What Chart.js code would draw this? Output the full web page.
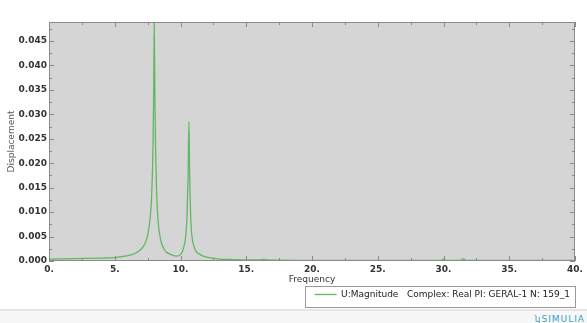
<!DOCTYPE html>
<html><head><meta charset="utf-8">
<script src="https://cdn.jsdelivr.net/npm/chart.js@4/dist/chart.umd.min.js"></script>
<style>
html,body{margin:0;padding:0;background:#fff;overflow:hidden;}
#wrap{position:relative;width:587px;height:309px;}
#foot{width:587px;height:14px;border-top:2px solid #e6e6e6;background:#f7f7f7;position:relative;}
#logo{position:absolute;right:2px;top:3px;font:9px "DejaVu Sans",sans-serif;color:#3aa0c8;letter-spacing:1px;}
</style></head>
<body>
<div id="wrap"><canvas id="c" width="587" height="309"></canvas></div>
<div id="foot"><span id="logo">&#x2AE;SIMULIA</span></div>
<script>
const frequency = [0, 2, 4, 5, 6, 6.5, 7, 7.3, 7.5, 7.7, 7.8, 7.9, 7.95, 8.0, 8.05, 8.1, 8.2, 8.3, 8.5, 8.8, 9.2, 9.7, 10.0, 10.2, 10.4, 10.5, 10.58, 10.64, 10.7, 10.8, 10.9, 11.1, 11.5, 12, 13, 14, 15, 16, 16.3, 16.6, 20, 25, 29.8, 30, 30.2, 31.3, 31.5, 31.7, 35, 40];
const displacement = [0.0004, 0.0005, 0.0006, 0.0007, 0.0011, 0.0015, 0.0024, 0.0036, 0.0052, 0.009, 0.013, 0.022, 0.032, 0.0488, 0.034, 0.024, 0.013, 0.008, 0.0042, 0.0022, 0.0014, 0.001, 0.0013, 0.0024, 0.0052, 0.0095, 0.018, 0.0285, 0.017, 0.0075, 0.0045, 0.0024, 0.0013, 0.0008, 0.0004, 0.0003, 0.0002, 0.0002, 0.0004, 0.0002, 0.0001, 0.0001, 0.0001, 0.0004, 0.0001, 0.0001, 0.0005, 0.0001, 0.0001, 0.0001];
const xTicks = [0, 5, 10, 15, 20, 25, 30, 35, 40];
const yTicks = [0, 0.005, 0.010, 0.015, 0.020, 0.025, 0.030, 0.035, 0.040, 0.045];
const seriesLabel = 'U:Magnitude   Complex: Real PI: GERAL-1 N: 159_1';

const points = frequency.map((f, i) => ({x: f, y: displacement[i]}));

const frame = {
  id: 'frame',
  beforeDatasetsDraw(chart) {
    const {ctx, chartArea: a} = chart;
    ctx.save();
    ctx.fillStyle = '#d5d5d5';
    ctx.fillRect(a.left, a.top, a.right - a.left, a.bottom - a.top);
    ctx.restore();
  },
  afterDraw(chart) {
    const {ctx, chartArea: a, scales: {x, y}} = chart;
    ctx.save();
    ctx.strokeStyle = '#8a8a8a';
    ctx.lineWidth = 1;
    ctx.strokeRect(a.left + 0.5, a.top + 0.5, a.right - a.left - 1, a.bottom - a.top - 1);
    ctx.beginPath();
    for (let v = 0; v <= 40.001; v += 2.5) {
      const px = Math.round(x.getPixelForValue(v)) + 0.5;
      const len = (Math.abs(v % 5) < 1e-6) ? 5 : 3;
      ctx.moveTo(px, a.bottom); ctx.lineTo(px, a.bottom - len);
      ctx.moveTo(px, a.top); ctx.lineTo(px, a.top + len);
    }
    for (let k = 0; k <= 19; k++) {
      const v = k * 0.0025;
      if (v > y.max) break;
      const py = Math.round(y.getPixelForValue(v)) + 0.5;
      const len = (k % 2 === 0) ? 5 : 3;
      ctx.moveTo(a.left, py); ctx.lineTo(a.left + len, py);
      ctx.moveTo(a.right, py); ctx.lineTo(a.right - len, py);
    }
    ctx.stroke();
    const L = chart.legend;
    if (L && L.legendHitBoxes && L.legendHitBoxes.length) {
      const hb = L.legendHitBoxes[0];
      ctx.strokeStyle = '#9a9a9a';
      const l = Math.round(hb.left - 10) + 0.5;
      const r = Math.round(hb.left + hb.width + 5) + 0.5;
      const t = Math.round(hb.top - 4) + 0.5;
      const b = Math.round(hb.top + hb.height + 8) + 0.5;
      ctx.strokeRect(l, t, r - l, b - t);
    }
    ctx.restore();
  }
};

new Chart(document.getElementById('c'), {
  type: 'scatter',
  data: {
    datasets: [{
      label: seriesLabel,
      data: points,
      showLine: true,
      borderColor: '#62b862',
      backgroundColor: '#62b862',
      borderWidth: 1.3,
      pointRadius: 0,
      tension: 0.35,
      cubicInterpolationMode: 'monotone'
    }]
  },
  options: {
    responsive: false,
    animation: false,
    layout: {padding: {top: 22, right: 12, left: 0, bottom: 0}},
    plugins: {
      tooltip: {enabled: false},
      legend: {
        position: 'bottom',
        align: 'end',
        labels: {
          usePointStyle: true,
          pointStyle: 'line',
          pointStyleWidth: 22,
          boxWidth: 22,
          padding: 5,
          color: '#222',
          font: {family: 'DejaVu Sans', size: 9}
        }
      }
    },
    scales: {
      x: {
        type: 'linear',
        min: 0, max: 40,
        afterBuildTicks(s) { s.ticks = xTicks.map(v => ({value: v})); },
        afterFit(s) { s.height = 24; },
        ticks: {
          color: '#333', font: {family: 'DejaVu Sans', size: 9, weight: 'bold'},
          padding: 3, maxRotation: 0,
          callback: v => v + '.'
        },
        grid: {display: false, drawTicks: false, tickLength: 0},
        border: {display: false},
        title: {display: true, text: 'Frequency', color: '#333', font: {family: 'DejaVu Sans', size: 9}, padding: {top: 0, bottom: 0}}
      },
      y: {
        type: 'linear',
        min: 0, max: 0.0489,
        afterBuildTicks(s) { s.ticks = yTicks.map(v => ({value: v})); },
        afterFit(s) { s.width = 49; },
        ticks: {
          color: '#333', font: {family: 'DejaVu Sans', size: 9, weight: 'bold'},
          padding: 2,
          callback: v => Number(v).toFixed(3)
        },
        grid: {display: false, drawTicks: false, tickLength: 0},
        border: {display: false},
        title: {display: true, text: 'Displacement', color: '#555', font: {family: 'DejaVu Sans', size: 9}, padding: {top: 6, bottom: 0}}
      }
    }
  },
  plugins: [frame]
});
</script>
</body></html>
